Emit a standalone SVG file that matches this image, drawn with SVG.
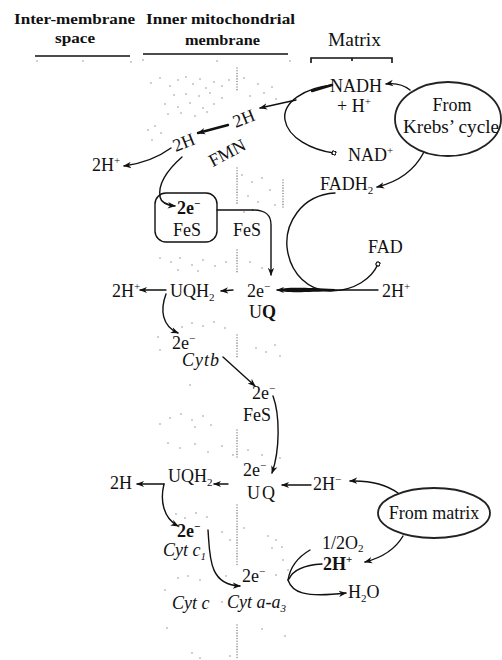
<svg xmlns="http://www.w3.org/2000/svg" width="502" height="660" viewBox="0 0 502 660">
<style>
.t{font-family:"Liberation Serif","Times New Roman",serif;font-size:18px;fill:#111}
.h{font-family:"Liberation Serif","Times New Roman",serif;font-size:14px;font-weight:bold;fill:#111}
.i{font-style:italic}
.b{font-weight:bold}
.sm{font-size:11px}
.c{fill:none;stroke:#111;stroke-width:1.4;stroke-linecap:round;stroke-linejoin:round}
.k{stroke-width:2.4}
.a{marker-end:url(#ah)}
.d{marker-end:url(#dot)}
.el{fill:none;stroke:#222;stroke-width:1.8}
.stip{fill:none;stroke:#8a8a8a;stroke-width:1.5;stroke-linecap:round}
.dl{fill:none;stroke:#8a8a8a;stroke-width:1.5;stroke-dasharray:0.1 2.6;stroke-linecap:round}
.rule{stroke:#111;stroke-width:1.6;fill:none}
</style>
<defs>
<marker id="ah" viewBox="0 0 10 10" refX="9" refY="5" markerWidth="8" markerHeight="8" markerUnits="userSpaceOnUse" orient="auto"><path d="M0,1 L10,5 L0,9 L3,5 Z" fill="#111"/></marker>
<marker id="dot" viewBox="0 0 10 10" refX="5" refY="5" markerWidth="5" markerHeight="5" markerUnits="userSpaceOnUse" orient="auto"><circle cx="5" cy="5" r="4" fill="#fff" stroke="#111" stroke-width="2.5"/></marker>
</defs>

<g id="stipple">
<path class="dl" d="M237,68 V90 M237,168 V205 M237,250 V272 M237,335 V358 M237,430 V458 M237,505 V565 M237,625 V660 M283,180 V208"/>
<path class="stip" d="M151,83h0 M160,78h0 M170,86h0 M178,80h0 M186,77h0 M193,84h0 M200,79h0 M206,88h0 M214,82h0 M222,86h0 M229,80h0 M174,95h0 M186,94h0 M199,96h0 M210,93h0 M222,98h0 M165,104h0 M178,107h0 M190,103h0 M203,108h0 M214,104h0 M168,114h0 M181,113h0 M195,116h0 M207,112h0 M244,78h0 M258,84h0 M272,87h0 M250,96h0 M264,93h0 M276,99h0 M148,130h0 M155,126h0 M161,133h0 M152,140h0 M242,175h0 M252,182h0 M262,178h0 M270,190h0 M248,196h0 M258,202h0 M275,205h0 M244,212h0 M160,258h0 M171,262h0 M180,258h0 M192,265h0 M203,260h0 M215,266h0 M226,262h0 M178,270h0 M198,271h0 M250,262h0 M262,268h0 M182,327h0 M192,323h0 M203,326h0 M214,322h0 M225,328h0 M158,337h0 M160,350h0 M256,348h0 M266,352h0 M275,345h0 M280,356h0 M190,385h0 M160,424h0 M170,418h0 M181,414h0 M192,420h0 M203,416h0 M211,425h0 M195,427h0 M168,443h0 M180,448h0 M195,444h0 M208,452h0 M222,446h0 M233,455h0 M248,450h0 M262,455h0 M280,458h0 M176,514h0 M185,518h0 M196,513h0 M207,517h0 M222,532h0 M230,540h0 M244,528h0 M268,536h0 M276,540h0 M282,547h0 M272,548h0 M283,560h0 M288,570h0 M276,575h0 M178,578h0 M188,576h0 M200,580h0 M226,576h0 M165,590h0 M222,602h0 M167,628h0 M262,629h0 M285,636h0 M192,653h0 M200,658h0 M230,656h0"/>
</g>

<g id="hdr-inter">
<text class="h" x="14" y="24" textLength="121" lengthAdjust="spacingAndGlyphs">Inter-membrane</text>
<text class="h" x="55" y="43" textLength="40" lengthAdjust="spacingAndGlyphs">space</text>
<line class="rule" x1="35" y1="56" x2="130" y2="56"/>
<path class="stip" d="M37,61h0 M83,61h0 M131,62h0"/>
</g>
<g id="hdr-inner">
<text class="h" x="146" y="24" textLength="149" lengthAdjust="spacingAndGlyphs">Inner mitochondrial</text>
<text class="h" x="185" y="45" textLength="75" lengthAdjust="spacingAndGlyphs">membrane</text>
<line class="rule" x1="143" y1="54" x2="288" y2="54"/>
<path class="stip" d="M143,60h0 M217,61h0 M290,61h0"/>
</g>
<g id="hdr-matrix">
<text class="t" x="328" y="46" textLength="53" lengthAdjust="spacingAndGlyphs">Matrix</text>
<path class="rule" d="M311,63 V58 H392 V63 M352,58 V61"/>
</g>

<g id="connectors">
<path class="c a" d="M410,90 Q400,82 386,84"/>
<path class="c a" d="M424,152 Q410,179 377,187"/>
<path class="c d" d="M332,85 C305,88 282,102 285,120 C288,138 312,150 334,153"/>
<path class="c k" d="M332,85 L312,91"/>
<path class="c a" d="M296,100 L260,108"/>
<path class="c a k" d="M228,125 L198,133"/>
<path class="c a" d="M171,148 Q152,162 124,166"/>
<path class="c a" d="M182,157 C165,172 158,185 160,197 C161,202 166,205 175,206"/>
<path class="c" d="M217,210 L253,210"/>
<path class="c a" d="M253,210 C266,210 271,215 271,225 L271,275"/>
<path class="c d" d="M335,193 C300,195 285,225 287,247 C290,275 310,291 330,291 C355,291 372,278 378,264"/>
<path class="c a" d="M378,290 L277,290"/>
<path d="M277,290 C285,287 300,287.5 335,289 L335,291 C300,292.5 285,293 277,290 Z" fill="#111"/>
<path class="c a" d="M233,290 L221,291"/>
<path class="c a" d="M166,290 L140,290"/>
<path class="c a" d="M166,294 C160,310 162,326 178,333"/>
<path class="c a" d="M223,357 L255,386"/>
<path class="c a" d="M273,396 C280,415 280,450 272,473"/>
<path class="c a" d="M228,484 L214,484"/>
<path class="c a" d="M164,484 L137,484"/>
<path class="c a" d="M164,484 C160,500 163,518 178,526"/>
<path class="c a" d="M311,485 L282,485"/>
<path class="c a" d="M398,493 Q380,480 350,481"/>
<path class="c a" d="M403,536 Q392,555 365,562"/>
<path class="c a" d="M208,530 C210,555 208,585 240,586"/>
<path class="c" d="M310,550 C298,557 290,568 288,580"/>
<path class="c" d="M322,564 C305,565 293,570 289,579"/>
<path class="c a" d="M288,580 C292,592 303,598 346,593"/>
</g>

<g id="n-nadh"><text class="t" x="330" y="92">NADH</text><text class="t" x="337" y="112">+ H<tspan class="sm" dy="-7">+</tspan></text></g>
<g id="n-krebs"><ellipse class="el" cx="448" cy="119" rx="53" ry="37"/><text class="t" x="452" y="111" text-anchor="middle">From</text><text class="t" x="451" y="133" text-anchor="middle" textLength="96" lengthAdjust="spacingAndGlyphs">Krebs’ cycle</text></g>
<g id="n-nad"><text class="t" x="348" y="161">NAD<tspan class="sm" dy="-7">+</tspan></text></g>
<g id="n-fadh2"><text class="t" x="320" y="190">FADH<tspan class="sm" dy="4">2</tspan></text></g>
<g id="n-fad"><text class="t" x="368" y="253">FAD</text></g>
<g id="n-2h-r"><text class="t" x="382" y="297">2H<tspan class="sm" dy="-7">+</tspan></text></g>
<g id="n-2h-a"><text class="t" transform="translate(246,124) rotate(-22)" text-anchor="middle">2H</text></g>
<g id="n-2h-b"><text class="t" transform="translate(186,148) rotate(-22)" text-anchor="middle">2H</text></g>
<g id="n-fmn"><text class="t" transform="translate(230,158) rotate(-28)" text-anchor="middle">FMN</text></g>
<g id="n-2h-l1"><text class="t" x="92" y="171">2H<tspan class="sm" dy="-7">+</tspan></text></g>
<g id="n-fes1"><rect class="c" x="155" y="193" width="62" height="49" rx="11"/><text class="t b" x="177" y="214">2e<tspan class="sm" dy="-7">−</tspan></text><text class="t" x="173" y="236">FeS</text></g>
<g id="n-fes2"><text class="t" x="233" y="236">FeS</text></g>
<g id="n-uq1"><text class="t" x="247" y="297">2e<tspan class="sm" dy="-7">−</tspan></text><text class="t" x="249" y="318">U<tspan class="b">Q</tspan></text></g>
<g id="n-uqh2-1"><text class="t" x="170" y="297">UQH<tspan class="sm" dy="4">2</tspan></text></g>
<g id="n-2h-l2"><text class="t" x="112" y="297">2H<tspan class="sm" dy="-7">+</tspan></text></g>
<g id="n-cytb"><text class="t" x="172" y="349">2e<tspan class="sm" dy="-7">−</tspan></text><text class="t i" x="182" y="366" letter-spacing="1">Cytb</text></g>
<g id="n-fes3"><text class="t" x="252" y="399">2e<tspan class="sm" dy="-7">−</tspan></text><text class="t" x="243" y="421">FeS</text></g>
<g id="n-uq2"><text class="t" x="243" y="476">2e<tspan class="sm" dy="-7">−</tspan></text><text class="t" x="247" y="499" letter-spacing="2">UQ</text></g>
<g id="n-uqh2-2"><text class="t" x="168" y="482">UQH<tspan class="sm" dy="4">2</tspan></text></g>
<g id="n-2h-l3"><text class="t" x="110" y="489">2H</text></g>
<g id="n-2h-m"><text class="t" x="313" y="490">2H<tspan class="sm" dy="-7">−</tspan></text></g>
<g id="n-matrix"><ellipse class="el" cx="434" cy="513" rx="56" ry="25"/><text class="t" x="434" y="519" text-anchor="middle">From matrix</text></g>
<g id="n-cytc1"><text class="t b" x="177" y="537">2e<tspan class="sm" dy="-7">−</tspan></text><text class="t i" x="163" y="556">Cyt  c<tspan class="sm" dy="4">1</tspan></text></g>
<g id="n-cyta"><text class="t" x="242" y="582">2e<tspan class="sm" dy="-7">−</tspan></text><text class="t i" x="227" y="608">Cyt a-a<tspan class="sm" dy="4">3</tspan></text></g>
<g id="n-cytc"><text class="t i" x="172" y="609">Cyt c</text></g>
<g id="n-o2"><text class="t" x="322" y="549">1/2O<tspan class="sm" dy="3">2</tspan></text><text class="t b" x="323" y="570">2H<tspan class="sm" dy="-7">+</tspan></text></g>
<g id="n-h2o"><text class="t" x="348" y="598">H<tspan class="sm" dy="4">2</tspan><tspan dy="-4">O</tspan></text></g>
</svg>
